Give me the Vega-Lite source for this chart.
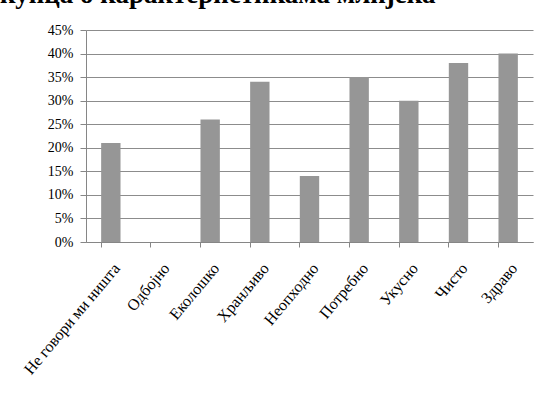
{
  "$schema": "https://vega.github.io/schema/vega-lite/v6.json",
  "autosize": "none",
  "width": 447,
  "height": 212,
  "padding": {"left": 86, "top": 30, "right": 12, "bottom": 160},
  "background": "white",
  "title": {
    "text": "купца о карактеристикама млијека",
    "anchor": "start",
    "frame": "group",
    "font": "Liberation Serif",
    "fontSize": 27,
    "fontWeight": "bold",
    "color": "black",
    "baseline": "alphabetic",
    "offset": 0,
    "dx": -86,
    "dy": 7
  },
  "data": {
    "values": [
      {"k": "Не говори ми ништа", "v": 0.21},
      {"k": "Одбојно", "v": 0},
      {"k": "Еколошко", "v": 0.26},
      {"k": "Хранљиво", "v": 0.34},
      {"k": "Неопходно", "v": 0.14},
      {"k": "Потребно", "v": 0.35},
      {"k": "Укусно", "v": 0.30},
      {"k": "Чисто", "v": 0.38},
      {"k": "Здраво", "v": 0.40}
    ]
  },
  "mark": {"type": "bar", "color": "#969696"},
  "encoding": {
    "x": {
      "field": "k", "type": "nominal", "sort": null,
      "scale": {"paddingInner": 0.61, "paddingOuter": 0.305},
      "axis": {
        "title": null, "labelAngle": -50, "labelAlign": "right", "labelBaseline": "top",
        "bandPosition": 0, "ticks": true, "tickSize": 5, "labelPadding": 13,
        "domainColor": "#868686", "tickColor": "#868686",
        "labelFont": "Liberation Serif", "labelFontSize": 16, "labelColor": "black",
        "labelOverlap": false, "labelLimit": 0
      }
    },
    "y": {
      "field": "v", "type": "quantitative",
      "scale": {"domain": [0, 0.45], "nice": false},
      "axis": {
        "title": null, "format": ".0%", "values": [0,0.05,0.1,0.15,0.2,0.25,0.3,0.35,0.4,0.45],
        "tickSize": 6, "labelPadding": 7, "domainColor": "#868686", "tickColor": "#868686",
        "gridColor": "#8c8c8c", "grid": true,
        "labelFont": "Liberation Serif", "labelFontSize": 14, "labelColor": "black"
      }
    }
  },
  "config": {"view": {"stroke": null}}
}
